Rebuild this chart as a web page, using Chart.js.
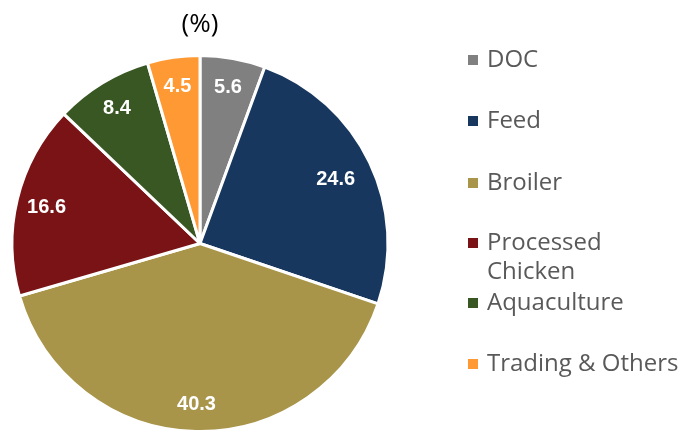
<!DOCTYPE html>
<html>
<head>
<meta charset="utf-8">
<script src="https://cdn.jsdelivr.net/npm/chart.js@4"></script>
<style>
  html, body { margin: 0; padding: 0; background: #fff; }
  #wrap { width: 680px; height: 433px; position: relative; }
</style>
</head>
<body>
<div id="wrap"><canvas id="myChart" width="680" height="433"></canvas></div>
<script>
const categorias = ["DOC", "Feed", "Broiler", "Processed Chicken", "Aquaculture", "Trading & Others"];
const etiquetasLeyenda = [["DOC"], ["Feed"], ["Broiler"], ["Processed", "Chicken"], ["Aquaculture"], ["Trading & Others"]];
const valores = [5.6, 24.6, 40.3, 16.6, 8.4, 4.5];
const colores = ["#808080", "#17375E", "#A89549", "#7A1315", "#385723", "#FF9933"];
const titulo = "(%)";

const fuente = "'Open Sans', 'Liberation Sans', sans-serif";
// que tan lejos del centro va cada etiqueta (fraccion del radio)
const distEtiqueta = [0.85, 0.80, 0.85, 0.84, 0.85, 0.85];

// valores dentro de cada porcion
const etiquetasValor = {
  id: "etiquetasValor",
  afterDatasetsDraw(chart) {
    const ctx = chart.ctx;
    const meta = chart.getDatasetMeta(0);
    ctx.save();
    ctx.fillStyle = "#ffffff";
    ctx.font = "bold 20px 'Liberation Sans', Arial, sans-serif";
    ctx.textAlign = "center";
    ctx.textBaseline = "middle";
    meta.data.forEach((arc, i) => {
      const p = arc.getProps(["x", "y", "startAngle", "endAngle", "outerRadius"], true);
      const ang = (p.startAngle + p.endAngle) / 2;
      const r = p.outerRadius * distEtiqueta[i];
      ctx.fillText(valores[i].toFixed(1), p.x + Math.cos(ang) * r, p.y + Math.sin(ang) * r + 1);
    });
    ctx.restore();
  }
};

// titulo y leyenda a la derecha
const leyendaDerecha = {
  id: "leyendaDerecha",
  afterDraw(chart) {
    const ctx = chart.ctx;
    ctx.save();
    ctx.fillStyle = "#000000";
    ctx.font = "26px " + fuente;
    ctx.textAlign = "center";
    ctx.textBaseline = "middle";
    ctx.fillText(titulo, 200, 25);

    const filas = [60, 121, 183, 243, 303, 364];
    ctx.textAlign = "left";
    ctx.font = "24px " + fuente;
    etiquetasLeyenda.forEach((lineas, i) => {
      const y = filas[i];
      ctx.fillStyle = colores[i];
      ctx.fillRect(468, y - 5, 10, 10);
      ctx.fillStyle = "#595959";
      lineas.forEach((t, j) => ctx.fillText(t, 487, y + j * 29));
    });
    ctx.restore();
  }
};

new Chart(document.getElementById("myChart"), {
  type: "pie",
  data: {
    labels: categorias,
    datasets: [{
      data: valores,
      backgroundColor: colores,
      borderColor: "#ffffff",
      borderWidth: 3
    }]
  },
  options: {
    responsive: false,
    animation: false,
    layout: { padding: { left: 9, top: 54, right: 289, bottom: 0 } },
    plugins: {
      legend: { display: false },
      tooltip: { enabled: false }
    }
  },
  plugins: [etiquetasValor, leyendaDerecha]
});
</script>
</body>
</html>
